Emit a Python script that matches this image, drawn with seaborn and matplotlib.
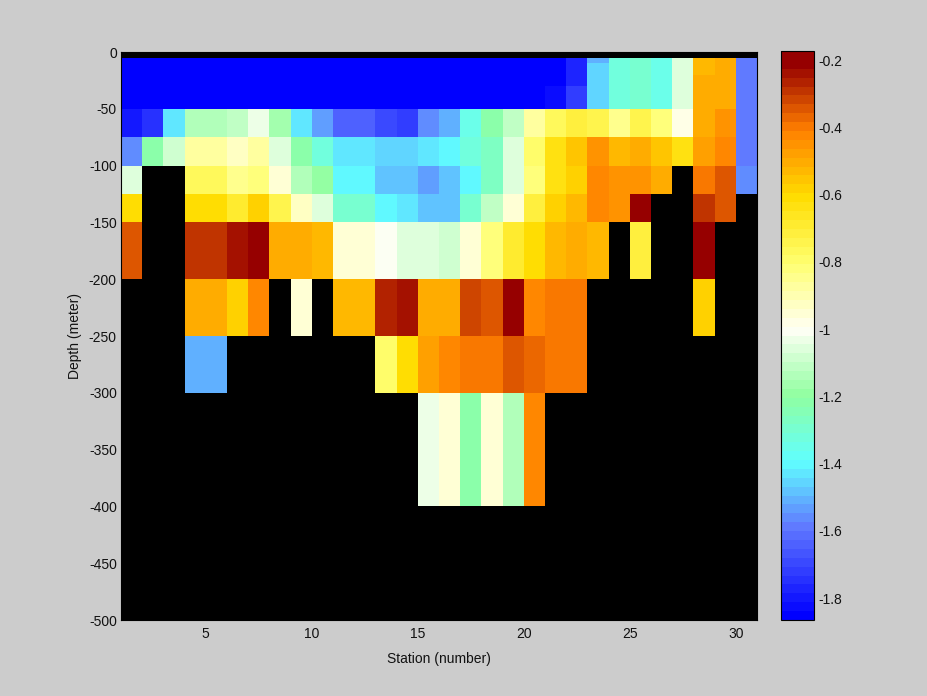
import numpy as np
import matplotlib
matplotlib.use("Agg")
import matplotlib.pyplot as plt
import seaborn as sns
from matplotlib.colors import LinearSegmentedColormap

n = np.nan

# limites des couches (metres)
depth_edges = [0, 5, 10, 20, 30, 50, 75, 100, 125, 150, 200, 250, 300, 400, 500]

# une liste par couche, stations 1 a 30
layer_000 = [n] * 30
layer_005 = [-1.87] * 21 + [-1.78, -1.50, -1.33, -1.30, -1.36, -1.07, -0.53, -0.50, -1.60]
layer_010 = [-1.87] * 21 + [-1.78, -1.46, -1.33, -1.30, -1.36, -1.07, -0.53, -0.50, -1.60]
layer_020 = [-1.87] * 21 + [-1.76, -1.46, -1.33, -1.30, -1.36, -1.07, -0.50, -0.50, -1.60]
layer_030 = [-1.87] * 20 + [-1.83, -1.72, -1.46, -1.33, -1.30, -1.36, -1.07, -0.50, -0.50, -1.60]
layer_050 = [-1.80, -1.74, -1.42, -1.14, -1.14, -1.10, -1.03, -1.17, -1.42, -1.53,
             -1.65, -1.65, -1.69, -1.72, -1.56, -1.51, -1.35, -1.22, -1.10, -0.88,
             -0.76, -0.72, -0.75, -0.85, -0.75, -0.82, -0.99, -0.50, -0.45, -1.60]
layer_075 = [-1.56, -1.22, -1.08, -0.88, -0.88, -0.93, -0.87, -1.07, -1.22, -1.31,
             -1.42, -1.42, -1.46, -1.46, -1.42, -1.40, -1.32, -1.27, -1.06, -0.80,
             -0.64, -0.55, -0.46, -0.52, -0.50, -0.55, -0.63, -0.48, -0.42, -1.60]
layer_100 = [-1.06, n, n, -0.77, -0.77, -0.85, -0.82, -0.95, -1.14, -1.20,
             -1.40, -1.40, -1.49, -1.49, -1.53, -1.49, -1.40, -1.28, -1.06, -0.83,
             -0.63, -0.57, -0.42, -0.46, -0.46, -0.50, n, -0.40, -0.34, -1.56]
layer_125 = [-0.62, n, n, -0.62, -0.62, -0.69, -0.57, -0.73, -0.93, -1.06,
             -1.30, -1.30, -1.40, -1.44, -1.49, -1.49, -1.30, -1.10, -0.95, -0.72,
             -0.57, -0.52, -0.43, -0.46, -0.19, n, n, -0.29, -0.34, n]
layer_150 = [-0.35, n, n, -0.29, -0.29, -0.25, -0.19, -0.50, -0.50, -0.53,
             -0.95, -0.95, -1.01, -1.06, -1.06, -1.08, -0.95, -0.83, -0.68, -0.62,
             -0.52, -0.50, -0.53, n, -0.72, n, n, -0.19, n, n]
layer_200 = [n, n, n, -0.50, -0.50, -0.58, -0.43, n, -0.95, n,
             -0.54, -0.54, -0.27, -0.25, -0.50, -0.50, -0.33, -0.35, -0.19, -0.43,
             -0.40, -0.40, n, n, n, n, n, -0.58, n, n]
layer_250 = [n, n, n, -1.52, -1.52, n, n, n, n, n,
             n, n, -0.80, -0.62, -0.47, -0.43, -0.40, -0.40, -0.35, -0.38,
             -0.40, -0.40, n, n, n, n, n, n, n, n]
layer_300 = [n] * 14 + [-1.04, -0.96, -1.22, -0.96, -1.15, -0.43] + [n] * 10
layer_400 = [n] * 30

layers = [layer_000, layer_005, layer_010, layer_020, layer_030, layer_050, layer_075,
          layer_100, layer_125, layer_150, layer_200, layer_250, layer_300, layer_400]

station_ticks = [5, 10, 15, 20, 25, 30]
depth_ticks = [0, 50, 100, 150, 200, 250, 300, 350, 400, 450, 500]
cbar_ticks = [-0.2, -0.4, -0.6, -0.8, -1.0, -1.2, -1.4, -1.6, -1.8]
cbar_labels = ['-0.2', '-0.4', '-0.6', '-0.8', '-1', '-1.2', '-1.4', '-1.6', '-1.8']

vmin, vmax = -1.865, -0.173

stops = [(0.00, '#0000ff'), (0.157, '#6078ff'), (0.275, '#60ffff'), (0.393, '#90ffa0'),
         (0.511, '#fffff5'), (0.629, '#ffff70'), (0.748, '#ffdc00'), (0.866, '#ff8000'),
         (0.984, '#960000'), (1.00, '#960000')]
cmap = LinearSegmentedColormap.from_list('ocean_jet', stops, N=64)

# grille reguliere de 5 m pour que heatmap respecte les epaisseurs
repeats = np.diff(depth_edges) // 5
grid = np.repeat(np.array(layers, dtype=float), repeats, axis=0)

sns.set_theme(style="white")
plt.rcParams['font.family'] = ['Liberation Sans', 'DejaVu Sans']

fig = plt.figure(figsize=(9.28, 6.96), dpi=100, facecolor='#cccccc')
ax = fig.add_axes([121 / 928, 1 - 620 / 696, 636 / 928, 568 / 696])
cax = fig.add_axes([781 / 928, 1 - 620 / 696, 33 / 928, 569 / 696])

sns.heatmap(grid, ax=ax, cbar_ax=cax, cmap=cmap, vmin=vmin, vmax=vmax,
            xticklabels=False, yticklabels=False)
ax.set_facecolor('black')

ax.set_xticks([s - 1 for s in station_ticks])
ax.set_xticklabels([str(s) for s in station_ticks], rotation=0)
ax.set_yticks([d / 5 for d in depth_ticks])
ax.set_yticklabels(['0' if d == 0 else f'-{d}' for d in depth_ticks], rotation=0)
# les graduations sont cachees sous l'image dans l'original
ax.tick_params(axis='x', length=0, labelsize=10, labelcolor='#111111', pad=5)
ax.tick_params(axis='y', length=0, labelsize=10, labelcolor='#111111', pad=3)
ax.set_xlabel('Station (number)', fontsize=10, color='#111111', labelpad=8)
ax.set_ylabel('Depth (meter)', fontsize=10, color='#111111', labelpad=5)
for side in ax.spines.values():
    side.set_visible(True)
    side.set_color('black')
    side.set_linewidth(0.8)

cbar = ax.collections[0].colorbar
cbar.set_ticks(cbar_ticks)
cbar.set_ticklabels(cbar_labels)
cax.tick_params(axis='y', direction='in', length=4, color='black', labelsize=10,
                labelcolor='#111111', pad=3, left=True, right=True)
cbar.outline.set_visible(True)
cbar.outline.set_edgecolor('black')
cbar.outline.set_linewidth(0.8)

fig.savefig('out.png', dpi=100, facecolor=fig.get_facecolor())
